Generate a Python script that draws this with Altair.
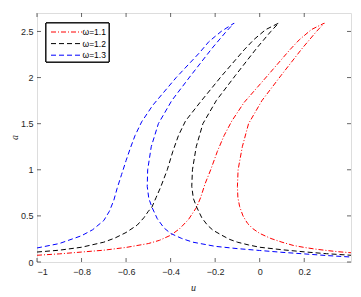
import altair as alt
import pandas as pd

# ---- data (path order: left branch bottom -> tip -> right branch bottom)
labels = ["ω=1.1", "ω=1.2", "ω=1.3"]
colors = ["#ff0000", "#000000", "#0000ff"]
dashes = [[5, 2, 1, 2], [5, 3], [5, 3]]

red_u = [-1.0, -0.9, -0.8, -0.7, -0.6, -0.5, -0.45, -0.4, -0.36, -0.32, -0.283, -0.265, -0.245, -0.22,
         -0.19, -0.16, -0.125, -0.07, 0.035, 0.135, 0.178, 0.232, 0.29,
         0.255, 0.192, 0.095, 0.01, -0.05, -0.078, -0.097, -0.1, -0.098, -0.09, -0.075, -0.055,
         -0.03, 0.0, 0.05, 0.1, 0.15, 0.2, 0.25, 0.3, 0.35, 0.41]
red_a = [0.073, 0.088, 0.108, 0.128, 0.158, 0.2, 0.235, 0.29, 0.36, 0.46, 0.595, 0.7, 0.85, 1.0,
         1.2, 1.37, 1.53, 1.73, 2.02, 2.3, 2.41, 2.52, 2.59,
         2.5, 2.32, 2.02, 1.75, 1.5, 1.25, 1.0, 0.82, 0.7, 0.6, 0.5, 0.42,
         0.36, 0.31, 0.255, 0.215, 0.18, 0.158, 0.14, 0.125, 0.112, 0.1]

black_u = [-1.0, -0.9, -0.8, -0.7, -0.65, -0.6, -0.55, -0.52, -0.5, -0.484, -0.465, -0.445, -0.415,
           -0.39, -0.365, -0.333, -0.268, -0.17, -0.07, -0.027, 0.027, 0.085,
           0.05, -0.013, -0.11, -0.195, -0.255, -0.285, -0.302, -0.305, -0.298, -0.283,
           -0.26, -0.235, -0.21, -0.17, -0.135, -0.1, -0.05, 0.0, 0.1, 0.2, 0.3, 0.41]
black_a = [0.108, 0.128, 0.16, 0.215, 0.26, 0.32, 0.4, 0.48, 0.55, 0.595, 0.7, 0.81, 1.0,
           1.2, 1.37, 1.53, 1.73, 2.02, 2.3, 2.41, 2.52, 2.59,
           2.5, 2.32, 2.02, 1.75, 1.5, 1.25, 1.0, 0.82, 0.69, 0.595,
           0.48, 0.4, 0.345, 0.29, 0.245, 0.215, 0.185, 0.16, 0.133, 0.11, 0.09, 0.073]

blue_u = [-1.0, -0.9, -0.8, -0.75, -0.7, -0.675, -0.655, -0.64, -0.62, -0.6, -0.58, -0.56, -0.53,
          -0.48, -0.375, -0.27, -0.228, -0.173, -0.115,
          -0.15, -0.213, -0.31, -0.395, -0.455, -0.487, -0.503, -0.505, -0.498, -0.484,
          -0.46, -0.43, -0.4, -0.35, -0.3, -0.2, -0.1, 0.0, 0.1, 0.2, 0.3, 0.41]
blue_a = [0.152, 0.2, 0.285, 0.35, 0.45, 0.55, 0.67, 0.8, 0.95, 1.1, 1.24, 1.37, 1.52,
          1.7, 2.0, 2.27, 2.39, 2.5, 2.59,
          2.5, 2.32, 2.02, 1.75, 1.5, 1.25, 1.0, 0.82, 0.69, 0.595,
          0.47, 0.37, 0.31, 0.255, 0.215, 0.17, 0.145, 0.125, 0.105, 0.088, 0.07, 0.054]

x_ticks = [-1, -0.8, -0.6, -0.4, -0.2, 0, 0.2]
y_ticks = [0, 0.5, 1, 1.5, 2, 2.5]
x_domain = [-1, 0.41]
y_domain = [0, 2.7]

W, H = 314, 249
FRAME = "#262626"
FONT = "Liberation Sans"

rows = []
for lab, us, as_ in [(labels[0], red_u, red_a), (labels[1], black_u, black_a), (labels[2], blue_u, blue_a)]:
    for i, (u, a) in enumerate(zip(us, as_)):
        rows.append({"series": lab, "u": u, "a": a, "i": i})
df = pd.DataFrame(rows)

xs = alt.Scale(domain=x_domain, nice=False, zero=False)
ys = alt.Scale(domain=y_domain, nice=False, zero=False)

x_axis = alt.Axis(values=x_ticks, format="~g", title="u", ticks=False, domain=False, grid=False,
                  labelPadding=5, labelFontSize=9, labelColor=FRAME, labelFont=FONT,
                  titleFontStyle="italic", titleFontWeight="normal", titleFontSize=10,
                  titleFont="Liberation Serif", titleColor=FRAME, titleX=156, titleY=25,
                  titleBaseline="middle")
y_axis = alt.Axis(values=y_ticks, format="~g", title="a", ticks=False, domain=False, grid=False,
                  labelPadding=4, labelFontSize=9, labelColor=FRAME, labelFont=FONT,
                  titleFontStyle="italic", titleFontWeight="normal", titleFontSize=10,
                  titleFont="Liberation Serif", titleColor=FRAME, titleX=-23, titleY=124,
                  titleBaseline="middle")

lines = alt.Chart(df).mark_line(strokeWidth=1, clip=True).encode(
    x=alt.X("u:Q", scale=xs, axis=x_axis),
    y=alt.Y("a:Q", scale=ys, axis=y_axis),
    color=alt.Color("series:N", scale=alt.Scale(domain=labels, range=colors), legend=None),
    strokeDash=alt.StrokeDash("series:N", scale=alt.Scale(domain=labels, range=dashes), legend=None),
    order="i:Q",
)

xt = pd.DataFrame({"u": x_ticks})
yt = pd.DataFrame({"a": y_ticks})
tick_style = dict(color=FRAME, thickness=1, size=4)

bx = alt.Chart(xt).mark_tick(orient="vertical", yOffset=-2, **tick_style).encode(
    x=alt.X("u:Q", scale=xs, axis=x_axis), y=alt.value(H))
tx = alt.Chart(xt).mark_tick(orient="vertical", yOffset=2, **tick_style).encode(
    x=alt.X("u:Q", scale=xs, axis=x_axis), y=alt.value(0))
ly = alt.Chart(yt).mark_tick(orient="horizontal", xOffset=2, **tick_style).encode(
    y=alt.Y("a:Q", scale=ys, axis=y_axis), x=alt.value(0))
ry = alt.Chart(yt).mark_tick(orient="horizontal", xOffset=-2, **tick_style).encode(
    y=alt.Y("a:Q", scale=ys, axis=y_axis), x=alt.value(W))

# ---- legend box (drawn as guide marks, positions in pixels of the plot area)
leg_df = pd.DataFrame({"series": labels})
legend_layers = [
    alt.Chart(leg_df).mark_rect(fill="white", stroke="#000000", strokeWidth=1).encode(
        x=alt.value(9), x2=alt.value(72), y=alt.value(10), y2=alt.value(49))
]
for k, lab in enumerate(labels):
    row_df = pd.DataFrame({"series": [lab]})
    yk = 19 + 11.6 * k
    legend_layers.append(
        alt.Chart(row_df).mark_rule(color=colors[k], strokeDash=dashes[k], strokeWidth=1).encode(
            x=alt.value(14), x2=alt.value(45), y=alt.value(yk)))
    legend_layers.append(
        alt.Chart(row_df).mark_text(align="left", baseline="middle", fontSize=8.5, font=FONT,
                                    color="#000000").encode(
            x=alt.value(45.5), y=alt.value(yk), text="series:N"))

chart = alt.layer(lines, bx, tx, ly, ry, *legend_layers).properties(
    width=W, height=H,
    autosize=alt.AutoSizeParams(type="none"),
    padding={"left": 29, "top": 5, "right": 2, "bottom": 30},
).configure_view(stroke=FRAME, strokeWidth=1).configure(background="white")

chart.save("out.html", embed_options={"renderer": "svg", "actions": False})
